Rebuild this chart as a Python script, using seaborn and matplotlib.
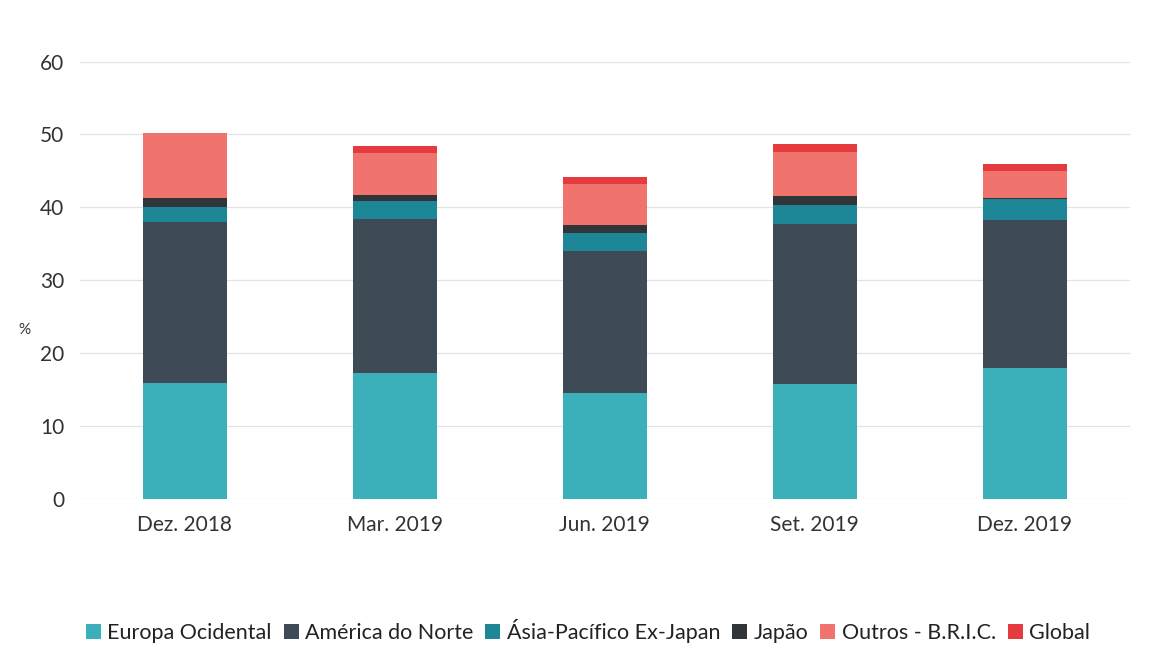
import numpy as np
import pandas as pd
import matplotlib
matplotlib.use("Agg")
import matplotlib.pyplot as plt
import seaborn as sns

# data (%)
periods = ["Dez. 2018", "Mar. 2019", "Jun. 2019", "Set. 2019", "Dez. 2019"]
europa = [15.8, 17.3, 14.5, 15.7, 17.9]
america = [22.2, 21.1, 19.5, 22.0, 20.4]
asia = [2.0, 2.4, 2.5, 2.6, 2.8]
japao = [1.2, 0.9, 1.0, 1.3, 0.1]
outros = [9.0, 5.7, 5.7, 6.0, 3.8]
global_ = [0.0, 1.0, 0.9, 1.1, 1.0]

series_names = ["Europa Ocidental", "América do Norte", "Ásia-Pacífico Ex-Japan",
                "Japão", "Outros - B.R.I.C.", "Global"]
series_vals = [europa, america, asia, japao, outros, global_]
colors = ["#3BB0BB", "#3E4A55", "#1E8797", "#2F3538", "#F0736E", "#E63B3E"]

sns.set_theme(style="white")
plt.rcParams['font.family'] = ['Lato', 'DejaVu Sans']

fig = plt.figure(figsize=(11.53, 6.66), dpi=100)
ax = fig.add_axes([0.069, 0.2515, 0.911, 0.656])

bottom = np.zeros(len(periods))
for name, vals, col in zip(series_names, series_vals, colors):
    df = pd.DataFrame({"periodo": periods, "valor": vals})
    sns.barplot(data=df, x="periodo", y="valor", color=col, bottom=bottom,
                width=0.4, ax=ax, label=name, saturation=1, linewidth=0, zorder=3)
    bottom = bottom + np.array(vals)

ax.set_ylim(0, 60)
ax.set_yticks(range(0, 61, 10))
ax.set_xlim(-0.5, len(periods) - 0.5)
ax.grid(axis="y", color="#E3E3E3", linewidth=0.9, zorder=0)
ax.grid(axis="x", visible=False)
for s in ax.spines.values():
    s.set_visible(False)
ax.tick_params(axis="both", length=0, labelsize=15, colors="#333333")
ax.tick_params(axis="y", pad=11)
ax.tick_params(axis="x", pad=12)
ax.set_xlabel("")
ax.set_ylabel("%", rotation=0, fontsize=11, color="#333333")
ax.yaxis.set_label_coords(-0.052, 0.37)

handles, labels = ax.get_legend_handles_labels()
ax.get_legend().remove()
fig.legend(handles, labels, loc="center", bbox_to_anchor=(0.51, 0.053), ncol=6,
           frameon=False, fontsize=15.5, handlelength=0.7, handleheight=0.7,
           handletextpad=0.3, columnspacing=0.55, labelcolor="#222222")

fig.savefig("out.png", dpi=100)
